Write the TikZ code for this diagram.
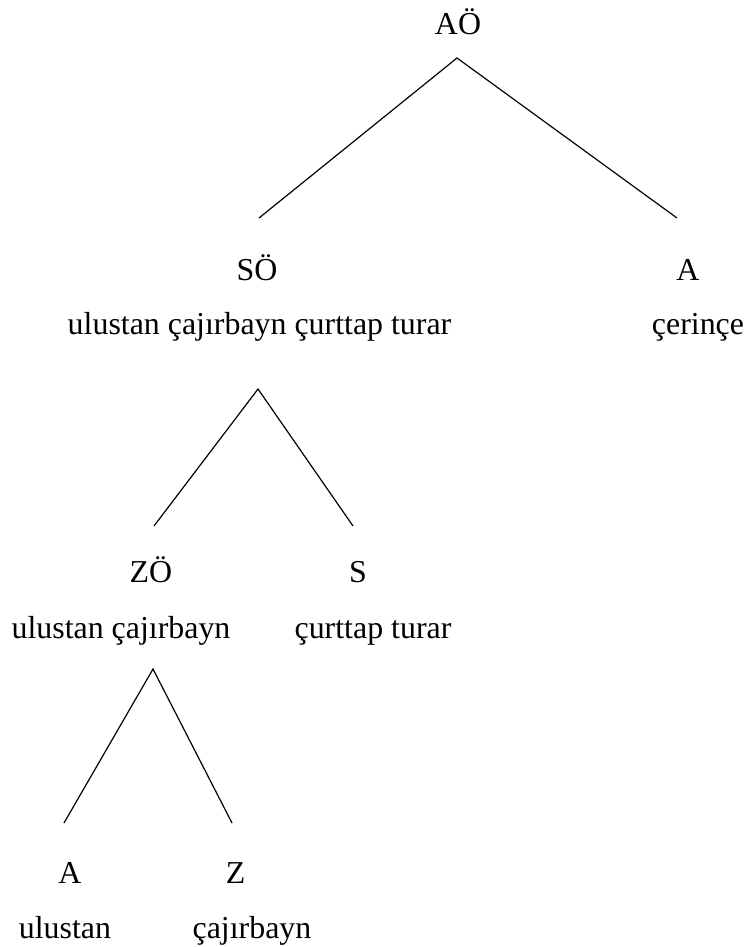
\documentclass[tikz,border=0pt]{standalone}
\usepackage{fontspec}
\setmainfont{Liberation Serif}
\begin{document}
\begin{tikzpicture}[x=1pt,y=-1pt,
  lbl/.style={anchor=base,inner sep=0pt,font=\fontsize{31.9}{38}\selectfont},
  edge/.style={line width=1.2pt}]
\useasboundingbox (0,0) rectangle (747,947);
% labels
\node[lbl] (AO) at (458,35) {AÖ};
\node[lbl] (SO) at (257,280) {SÖ};
\node[lbl] (SOt) at (259.5,334) {ulustan çajırbayn çurttap turar};
\node[lbl] (A1) at (688,280) {A};
\node[lbl] (A1t) at (698,334) {çerinçe};
\node[lbl] (ZO) at (151,582) {ZÖ};
\node[lbl] (ZOt) at (121,638) {ulustan çajırbayn};
\node[lbl] (S) at (358,582) {S};
\node[lbl] (St) at (373,638) {çurttap turar};
\node[lbl] (A2) at (70,883) {A};
\node[lbl] (A2t) at (65,938) {ulustan};
\node[lbl] (Z) at (235.5,883) {Z};
\node[lbl] (Zt) at (252,938) {çajırbayn};
% connector ends
\coordinate (AOb) at (457,58);
\coordinate (SOa) at (259,218);
\coordinate (A1a) at (677,218);
\coordinate (SOb) at (258,389);
\coordinate (ZOa) at (154,526);
\coordinate (Sa) at (353,526);
\coordinate (ZOb) at (153,669);
\coordinate (A2a) at (64,823);
\coordinate (Za) at (232,823);
% connectors
\draw[edge] (SOa) -- (AOb) -- (A1a);
\draw[edge] (ZOa) -- (SOb) -- (Sa);
\draw[edge] (A2a) -- (ZOb) -- (Za);
\end{tikzpicture}
\end{document}
